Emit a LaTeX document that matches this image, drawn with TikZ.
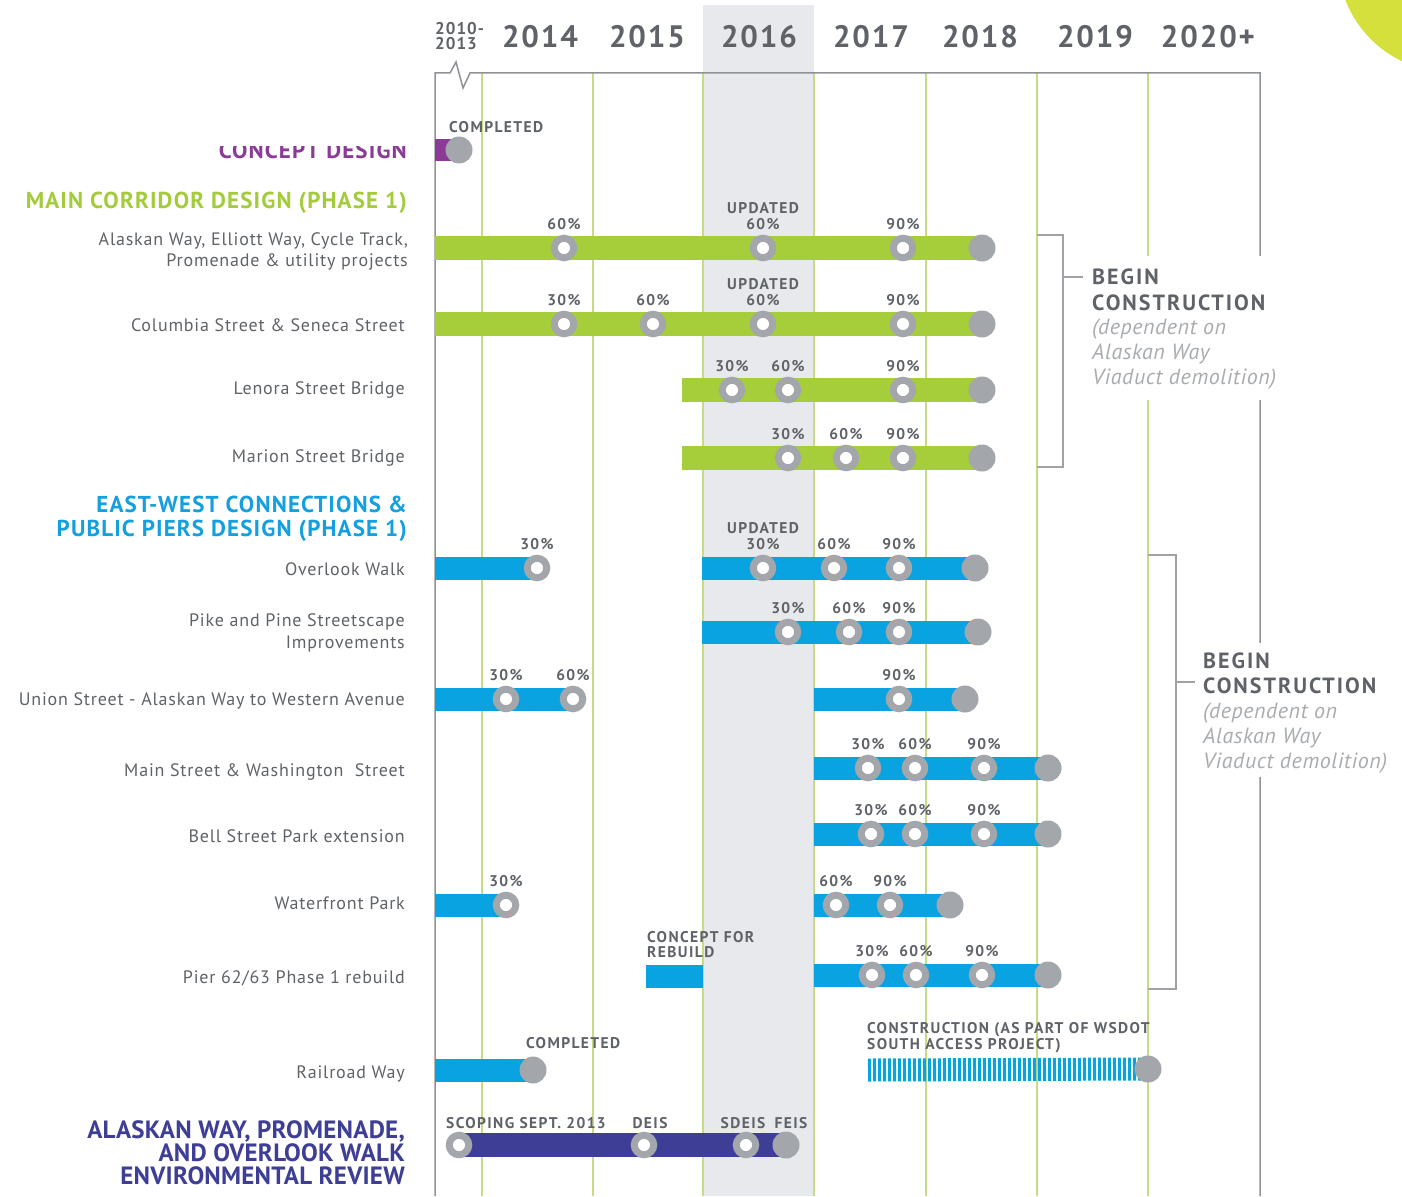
\documentclass[tikz,border=0pt]{standalone}
\usepackage{fontspec}
\setmainfont{PT Sans}
\newfontfamily\lblfont[LetterSpace=9]{PT Sans}
\newfontfamily\rowfont[LetterSpace=4.5]{PT Sans}
\newfontfamily\headfont[LetterSpace=5]{PT Sans}
\newfontfamily\bigfont[LetterSpace=9]{PT Sans}
\newfontfamily\itfont[LetterSpace=2.6]{PT Sans}
\newfontfamily\yearfont[LetterSpace=6]{PT Sans}
\newfontfamily\envfont[LetterSpace=1]{PT Sans}
\usetikzlibrary{shapes.geometric}
\definecolor{cgreen}{HTML}{A5CE3A}
\definecolor{cblue}{HTML}{0AA3E2}
\definecolor{cpurple}{HTML}{8B3A97}
\definecolor{cindigo}{HTML}{3E3E97}
\definecolor{cring}{HTML}{A3A6AB}
\definecolor{ctext}{HTML}{5F6368}
\definecolor{clight}{HTML}{A9ACAF}
\definecolor{cband}{HTML}{E7E9EC}
\definecolor{cyline}{HTML}{C5DC85}
\definecolor{cframe}{HTML}{8F9296}
\definecolor{cyellow}{HTML}{D6E03C}
\definecolor{cgreenhead}{HTML}{A3CB3A}
\definecolor{cbluehead}{HTML}{149FDF}
\pgfdeclarelayer{grid}
\pgfdeclarelayer{bars}
\pgfsetlayers{grid,bars,main}
\newcommand{\rmark}[4]{\node[ring] (#1) at (#2,#3) {};\node[pct] (#1t) at (#2,#3-24) {#4};}
\newcommand{\rupd}[3]{\node[pct] (#1u) at (#2,#3-40) {UPDATED};}
\begin{document}
\begin{tikzpicture}[x=1pt,y=-1pt,
  ring/.style={circle,draw=cring,line width=7pt,fill=white,minimum size=19.5pt,inner sep=0pt},
  endc/.style={circle,fill=cring,minimum size=27pt,inner sep=0pt},
  pct/.style={font=\fontsize{15.5}{15.5}\selectfont\lblfont\bfseries,text=ctext,inner sep=0pt},
  rowlbl/.style={font=\fontsize{18}{18}\selectfont\rowfont,text=ctext,anchor=base east,inner sep=0pt},
  head/.style={font=\fontsize{23}{23}\selectfont\headfont\bfseries,anchor=base east,inner sep=0pt},
  envhead/.style={font=\fontsize{25}{25}\selectfont\envfont\bfseries,text=cindigo,anchor=base east,inner sep=0pt,text height=18pt,text depth=0pt},
  year/.style={font=\fontsize{31}{31}\selectfont\yearfont\bfseries,text=ctext,inner sep=0pt},
  bighead/.style={font=\fontsize{22}{22}\selectfont\bigfont\bfseries,text=ctext,anchor=base west,inner sep=0pt},
  itl/.style={font=\fontsize{22}{22}\selectfont\itfont\itshape,text=clight,anchor=base west,inner sep=0pt},
  gbar/.style={draw=cgreen,line width=24pt},
  bbar/.style={draw=cblue,line width=23pt},
  yline/.style={draw=cyline,line width=1.4pt},
  frame/.style={draw=cframe,line width=1.5pt},
  brk/.style={draw=cframe!85,line width=1.3pt},
  whitebox/.style={fill=white,inner sep=0pt,anchor=north west}
]
\useasboundingbox (0,0) rectangle (1402,1196);
\begin{pgfonlayer}{grid}
  \fill[white] (0,0) rectangle (1402,1196);
  \fill[cband] (703,5) rectangle (814,1196);
  \foreach \xx in {482,593,703,814,926,1037,1148} \draw[yline] (\xx,73) -- (\xx,1196);
  \draw[frame] (1260,1196) -- (1260,73) -- (470,73) -- (463,88) -- (456,62) -- (450,73) -- (435,73) -- (435,1196);
  \begin{scope}
    \clip (0,0) rectangle (1402,1196);
    \fill[cyellow] (1450,-40) circle (112);
  \end{scope}
\end{pgfonlayer}

% years
\node[font=\fontsize{17}{17}\selectfont\yearfont\bfseries,text=ctext,inner sep=0pt,anchor=west] (y0a) at (435,29) {2010-};
\node[font=\fontsize{17}{17}\selectfont\yearfont\bfseries,text=ctext,inner sep=0pt,anchor=west] (y0b) at (435,44) {2013};
\node[year] (y14) at (540,37) {2014};
\node[year] (y15) at (647,37) {2015};
\node[year] (y16) at (759,37) {2016};
\node[year] (y17) at (871,37) {2017};
\node[year] (y18) at (980,37) {2018};
\node[year] (y19) at (1095,37) {2019};
\node[year] (y20) at (1208,37) {2020+};

% concept design
\coordinate (cS) at (435,150);
\node[endc] (cE) at (459,150) {};
\node[pct,anchor=west] (cT) at (449,127) {COMPLETED};
\begin{scope}
  \clip (0,146) rectangle (430,175);
  \node[head,text=cpurple] (hA) at (407,158) {CONCEPT DESIGN};
\end{scope}
\node[head,text=cgreenhead] (hB) at (407,208) {MAIN CORRIDOR DESIGN (PHASE 1)};

% row 1 Alaskan Way
\node[rowlbl] (l1a) at (408,245) {Alaskan Way, Elliott Way, Cycle Track,};
\node[rowlbl] (l1b) at (408,266) {Promenade \& utility projects};
\coordinate (r1s) at (435,248);
\rmark{r1a}{564}{248}{60\%}
\rmark{r1b}{763}{248}{60\%}\rupd{r1b}{763}{248}
\rmark{r1c}{903}{248}{90\%}
\node[endc] (r1e) at (982,248) {};

% row 2 Columbia
\node[rowlbl] (l2) at (405,331) {Columbia Street \& Seneca Street};
\coordinate (r2s) at (435,324);
\rmark{r2a}{564}{324}{30\%}
\rmark{r2b}{653}{324}{60\%}
\rmark{r2c}{763}{324}{60\%}\rupd{r2c}{763}{324}
\rmark{r2d}{903}{324}{90\%}
\node[endc] (r2e) at (982,324) {};

% row 3 Lenora
\node[rowlbl] (l3) at (405,394) {Lenora Street Bridge};
\coordinate (r3s) at (682,390);
\rmark{r3a}{732}{390}{30\%}
\rmark{r3b}{788}{390}{60\%}
\rmark{r3c}{903}{390}{90\%}
\node[endc] (r3e) at (982,390) {};

% row 4 Marion
\node[rowlbl] (l4) at (405,462) {Marion Street Bridge};
\coordinate (r4s) at (682,458);
\rmark{r4a}{788}{458}{30\%}
\rmark{r4b}{846}{458}{60\%}
\rmark{r4c}{903}{458}{90\%}
\node[endc] (r4e) at (982,458) {};

% header east-west
\node[head,text=cbluehead] (hC1) at (407,512) {EAST-WEST CONNECTIONS \&};
\node[head,text=cbluehead] (hC2) at (407,536) {PUBLIC PIERS DESIGN (PHASE 1)};

% row 5 Overlook
\node[rowlbl] (l5) at (405,575) {Overlook Walk};
\coordinate (r5s) at (435,568);
\rmark{r5a}{537}{568}{30\%}
\coordinate (r5t) at (702,568);
\rmark{r5b}{763}{568}{30\%}\rupd{r5b}{763}{568}
\rmark{r5c}{834}{568}{60\%}
\rmark{r5d}{899}{568}{90\%}
\node[endc] (r5e) at (975,568) {};

% row 6 Pike
\node[rowlbl] (l6a) at (405,626) {Pike and Pine Streetscape};
\node[rowlbl] (l6b) at (405,648) {Improvements};
\coordinate (r6s) at (702,632);
\rmark{r6a}{788}{632}{30\%}
\rmark{r6b}{849}{632}{60\%}
\rmark{r6c}{899}{632}{90\%}
\node[endc] (r6e) at (978,632) {};

% row 7 Union
\node[rowlbl] (l7) at (405,705) {Union Street - Alaskan Way to Western Avenue};
\coordinate (r7s) at (435,699);
\rmark{r7a}{506}{699}{30\%}
\rmark{r7b}{573}{699}{60\%}
\coordinate (r7t) at (814,699);
\rmark{r7c}{899}{699}{90\%}
\node[endc] (r7e) at (965,699) {};

% row 8 Main
\node[rowlbl] (l8) at (405,776) {Main Street \& Washington\ \ Street};
\coordinate (r8s) at (814,768);
\rmark{r8a}{868}{768}{30\%}
\rmark{r8b}{915}{768}{60\%}
\rmark{r8c}{984}{768}{90\%}
\node[endc] (r8e) at (1048,768) {};

% row 9 Bell
\node[rowlbl] (l9) at (405,842) {Bell Street Park extension};
\coordinate (r9s) at (814,834);
\rmark{r9a}{871}{834}{30\%}
\rmark{r9b}{915}{834}{60\%}
\rmark{r9c}{984}{834}{90\%}
\node[endc] (r9e) at (1048,834) {};

% row 10 Waterfront
\node[rowlbl] (l10) at (405,909) {Waterfront Park};
\coordinate (r10s) at (435,905);
\rmark{r10a}{506}{905}{30\%}
\coordinate (r10t) at (814,905);
\rmark{r10b}{836}{905}{60\%}
\rmark{r10c}{890}{905}{90\%}
\node[endc] (r10e) at (950,905) {};

% row 11 Pier
\node[rowlbl] (l11) at (405,983) {Pier 62/63 Phase 1 rebuild};
\node[pct,anchor=west] (r11ca) at (647,937) {CONCEPT FOR};
\node[pct,anchor=west] (r11cb) at (647,952) {REBUILD};
\coordinate (r11p) at (646,976);
\coordinate (r11q) at (703,976);
\coordinate (r11s) at (814,975);
\rmark{r11a}{872}{975}{30\%}
\rmark{r11b}{916}{975}{60\%}
\rmark{r11c}{982}{975}{90\%}
\node[endc] (r11e) at (1048,975) {};

% row 12 Railroad
\node[rowlbl] (l12) at (405,1078) {Railroad Way};
\coordinate (r12s) at (435,1070);
\node[endc] (r12e) at (533,1070) {};
\node[pct,anchor=west] (r12t) at (526,1043) {COMPLETED};
\node[pct,anchor=west] (r12c1) at (867,1030) {CONSTRUCTION (AS PART OF WSDOT};
\node[pct,anchor=west] (r12c2) at (867,1046) {SOUTH ACCESS PROJECT)};
\coordinate (r12h) at (868,1070);
\node[endc] (r12f) at (1148,1069) {};

% env review
\node[envhead] (hD1) at (405,1138) {ALASKAN WAY, PROMENADE,};
\node[envhead] (hD2) at (405,1161) {AND OVERLOOK WALK};
\node[envhead] (hD3) at (405,1184) {ENVIRONMENTAL REVIEW};
\node[ring] (e1) at (459,1145) {};
\node[ring] (e2) at (644,1145) {};
\node[ring] (e3) at (746,1145) {};
\node[endc] (e4) at (786,1145) {};
\node[pct,anchor=west] (e1t) at (446,1123) {SCOPING SEPT. 2013};
\node[pct] (e2t) at (650,1123) {DEIS};
\node[pct] (e3t) at (743,1123) {SDEIS};
\node[pct] (e4t) at (791,1123) {FEIS};

% brackets
\coordinate (k1a) at (1037,235);
\coordinate (k1b) at (1037,467);
\coordinate (k1c) at (1083,277);
\draw[brk] (k1a) -- (1063,235) -- (1063,467) -- (k1b);
\draw[brk] (1063,277) -- (k1c);
\node[whitebox,minimum width=205pt,minimum height=144pt] (w1) at (1085,256) {};
\node[bighead] (b1a) at (1092,284) {BEGIN};
\node[bighead] (b1b) at (1092,310) {CONSTRUCTION};
\node[itl] (b1c) at (1092,334) {(dependent on};
\node[itl] (b1d) at (1092,359) {Alaskan Way};
\node[itl] (b1e) at (1092,384) {Viaduct demolition)};

\coordinate (k2a) at (1148,555);
\coordinate (k2b) at (1148,989);
\coordinate (k2c) at (1195,682);
\draw[brk] (k2a) -- (1176,555) -- (1176,989) -- (k2b);
\draw[brk] (1176,682) -- (k2c);
\node[whitebox,minimum width=200pt,minimum height=134pt] (w2) at (1197,643) {};
\node[bighead] (b2a) at (1203,668) {BEGIN};
\node[bighead] (b2b) at (1203,693) {CONSTRUCTION};
\node[itl] (b2c) at (1203,718) {(dependent on};
\node[itl] (b2d) at (1203,743) {Alaskan Way};
\node[itl] (b2e) at (1203,768) {Viaduct demolition)};

% bars
\begin{pgfonlayer}{bars}
  \draw[draw=cpurple,line width=22pt] (cS) -- (cE.center);
  \draw[gbar] (r1s) -- (r1e.center);
  \draw[gbar] (r2s) -- (r2e.center);
  \draw[gbar] (r3s) -- (r3e.center);
  \draw[gbar] (r4s) -- (r4e.center);
  \draw[bbar] (r5s) -- (r5a.center);
  \draw[bbar] (r5t) -- (r5e.center);
  \draw[bbar] (r6s) -- (r6e.center);
  \draw[bbar] (r7s) -- (r7b.center);
  \draw[bbar] (r7t) -- (r7e.center);
  \draw[bbar] (r8s) -- (r8e.center);
  \draw[bbar] (r9s) -- (r9e.center);
  \draw[bbar] (r10s) -- (r10a.center);
  \draw[bbar] (r10t) -- (r10e.center);
  \draw[bbar] (r11p) -- (r11q);
  \draw[bbar] (r11s) -- (r11e.center);
  \draw[bbar] (r12s) -- (r12e.center);
  \draw[draw=cblue,line width=23pt,dash pattern=on 3pt off 2pt] (r12h) -- (r12f.center);
  \draw[draw=cindigo,line width=24pt] (e1.center) -- (e4.center);
\end{pgfonlayer}
\end{tikzpicture}
\end{document}
